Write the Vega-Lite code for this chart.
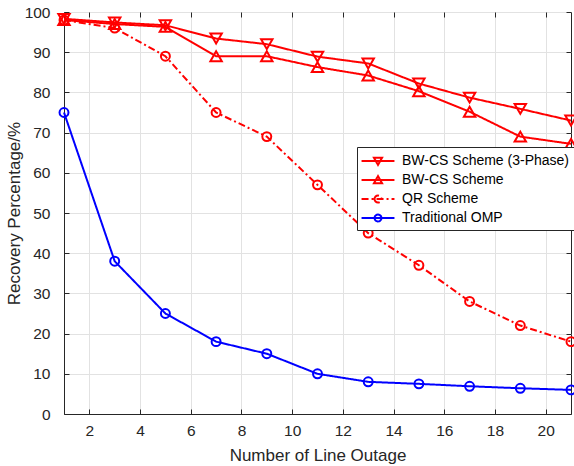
{
  "$schema": "https://vega.github.io/schema/vega-lite/v6.json",
  "autosize": {"type": "none"},
  "padding": {"left": 64, "top": 12, "right": 3, "bottom": 52},
  "width": 507,
  "height": 402,
  "background": "white",
  "config": {
    "font": "Liberation Sans",
    "view": {"stroke": "#262626", "strokeWidth": 1},
    "axis": {
      "labelFont": "Liberation Sans",
      "titleFont": "Liberation Sans",
      "labelColor": "#262626",
      "titleColor": "#262626",
      "labelFontSize": 15.5,
      "titleFontSize": 17,
      "titleFontWeight": "normal",
      "domainColor": "#262626",
      "tickColor": "#262626",
      "gridColor": "#e2e2e2",
      "gridWidth": 1
    }
  },
  "resolve": {"axis": {"x": "independent", "y": "independent"}},
  "data": {
    "values": [
      {"series": "BW-CS Scheme (3-Phase)", "x": 1, "y": 98.3},
      {"series": "BW-CS Scheme (3-Phase)", "x": 3, "y": 97.4},
      {"series": "BW-CS Scheme (3-Phase)", "x": 5, "y": 96.7},
      {"series": "BW-CS Scheme (3-Phase)", "x": 7, "y": 93.4},
      {"series": "BW-CS Scheme (3-Phase)", "x": 9, "y": 92},
      {"series": "BW-CS Scheme (3-Phase)", "x": 11, "y": 88.9},
      {"series": "BW-CS Scheme (3-Phase)", "x": 13, "y": 87.2},
      {"series": "BW-CS Scheme (3-Phase)", "x": 15, "y": 82.2},
      {"series": "BW-CS Scheme (3-Phase)", "x": 17, "y": 78.7},
      {"series": "BW-CS Scheme (3-Phase)", "x": 19, "y": 75.9},
      {"series": "BW-CS Scheme (3-Phase)", "x": 21, "y": 73},
      {"series": "BW-CS Scheme", "x": 1, "y": 98},
      {"series": "BW-CS Scheme", "x": 3, "y": 97},
      {"series": "BW-CS Scheme", "x": 5, "y": 96.3},
      {"series": "BW-CS Scheme", "x": 7, "y": 89},
      {"series": "BW-CS Scheme", "x": 9, "y": 89},
      {"series": "BW-CS Scheme", "x": 11, "y": 86.3},
      {"series": "BW-CS Scheme", "x": 13, "y": 84.2},
      {"series": "BW-CS Scheme", "x": 15, "y": 80.3},
      {"series": "BW-CS Scheme", "x": 17, "y": 75.2},
      {"series": "BW-CS Scheme", "x": 19, "y": 69},
      {"series": "BW-CS Scheme", "x": 21, "y": 67.2},
      {"series": "QR Scheme", "x": 1, "y": 98},
      {"series": "QR Scheme", "x": 3, "y": 96},
      {"series": "QR Scheme", "x": 5, "y": 89},
      {"series": "QR Scheme", "x": 7, "y": 75},
      {"series": "QR Scheme", "x": 9, "y": 69},
      {"series": "QR Scheme", "x": 11, "y": 57},
      {"series": "QR Scheme", "x": 13, "y": 45},
      {"series": "QR Scheme", "x": 15, "y": 37},
      {"series": "QR Scheme", "x": 17, "y": 28},
      {"series": "QR Scheme", "x": 19, "y": 22},
      {"series": "QR Scheme", "x": 21, "y": 18},
      {"series": "Traditional OMP", "x": 1, "y": 75},
      {"series": "Traditional OMP", "x": 3, "y": 38},
      {"series": "Traditional OMP", "x": 5, "y": 25},
      {"series": "Traditional OMP", "x": 7, "y": 18},
      {"series": "Traditional OMP", "x": 9, "y": 15},
      {"series": "Traditional OMP", "x": 11, "y": 10},
      {"series": "Traditional OMP", "x": 13, "y": 8},
      {"series": "Traditional OMP", "x": 15, "y": 7.5},
      {"series": "Traditional OMP", "x": 17, "y": 6.9},
      {"series": "Traditional OMP", "x": 19, "y": 6.4},
      {"series": "Traditional OMP", "x": 21, "y": 6}
    ]
  },
  "layer": [
    {
      "mark": {"type": "line", "strokeWidth": 2},
      "encoding": {
        "x": {
          "field": "x", "type": "quantitative",
          "scale": {"domain": [1, 21], "nice": false, "zero": false},
          "axis": {
            "title": "Number of Line Outage",
            "values": [2, 4, 6, 8, 10, 12, 14, 16, 18, 20],
            "tickSize": -5, "labelPadding": 14, "titlePadding": 9
          }
        },
        "y": {
          "field": "y", "type": "quantitative",
          "scale": {"domain": [0, 100], "nice": false},
          "axis": {
            "title": "Recovery Percentage/%",
            "values": [0, 10, 20, 30, 40, 50, 60, 70, 80, 90, 100],
            "tickSize": -5, "labelPadding": 19, "titlePadding": 1
          }
        },
        "color": {
          "field": "series", "type": "nominal",
          "scale": {
            "domain": ["BW-CS Scheme (3-Phase)", "BW-CS Scheme", "QR Scheme", "Traditional OMP"],
            "range": ["#ff0000", "#ff0000", "#ff0000", "#0000ff"]
          },
          "legend": {
            "title": null,
            "orient": "none",
            "legendX": 293,
            "legendY": 135,
            "fillColor": "white",
            "strokeColor": "#262626",
            "padding": 4,
            "labelFont": "Liberation Sans",
            "labelFontSize": 14,
            "labelColor": "#000000",
            "labelLimit": 300,
            "symbolSize": 300,
            "symbolOffset": 7,
            "symbolStrokeWidth": 2,
            "symbolFillColor": "transparent",
            "rowPadding": 1,
            "labelOffset": 14,
            "encode": {
              "symbols": {
                "update": {
                  "fill": {"value": "transparent"},
                  "shape": {"signal": "datum.value === 'BW-CS Scheme (3-Phase)' ? 'M-1.9,0H1.9M-0.47,-0.38H0.47L0,0.45Z' : datum.value === 'BW-CS Scheme' ? 'M-1.9,0H1.9M-0.47,0.38H0.47L0,-0.45Z' : 'M-1.9,0H1.9M-0.4,0A0.4,0.4 0 1,0 0.4,0A0.4,0.4 0 1,0 -0.4,0Z'"},
                  "strokeDash": {"signal": "datum.value === 'QR Scheme' ? [5,2.5,1.5,2.5] : [1,0]"}
                }
              }
            }
          }
        },
        "strokeDash": {
          "field": "series", "type": "nominal",
          "scale": {
            "domain": ["BW-CS Scheme (3-Phase)", "BW-CS Scheme", "QR Scheme", "Traditional OMP"],
            "range": [[1, 0], [1, 0], [7, 3, 2, 3], [1, 0]]
          },
          "legend": null
        }
      }
    },
    {
      "transform": [{"filter": "datum.series === 'BW-CS Scheme (3-Phase)'"}],
      "mark": {"type": "point", "shape": "triangle-down", "size": 130, "filled": false, "strokeWidth": 2, "opacity": 1},
      "encoding": {
        "x": {
          "field": "x", "type": "quantitative",
          "axis": {"orient": "top", "labels": false, "title": null, "grid": false, "domain": false, "tickSize": -5, "values": [2, 4, 6, 8, 10, 12, 14, 16, 18, 20]}
        },
        "y": {
          "field": "y", "type": "quantitative",
          "axis": {"orient": "right", "labels": false, "title": null, "grid": false, "domain": false, "tickSize": -5, "values": [0, 10, 20, 30, 40, 50, 60, 70, 80, 90, 100]}
        },
        "color": {"field": "series", "type": "nominal"}
      }
    },
    {
      "transform": [{"filter": "datum.series === 'BW-CS Scheme'"}],
      "mark": {"type": "point", "shape": "triangle-up", "size": 130, "filled": false, "strokeWidth": 2, "opacity": 1},
      "encoding": {
        "x": {"field": "x", "type": "quantitative", "axis": null},
        "y": {"field": "y", "type": "quantitative", "axis": null},
        "color": {"field": "series", "type": "nominal"}
      }
    },
    {
      "transform": [{"filter": "datum.series === 'QR Scheme' || datum.series === 'Traditional OMP'"}],
      "mark": {"type": "point", "shape": "circle", "size": 80, "filled": false, "strokeWidth": 2, "opacity": 1},
      "encoding": {
        "x": {"field": "x", "type": "quantitative", "axis": null},
        "y": {"field": "y", "type": "quantitative", "axis": null},
        "color": {"field": "series", "type": "nominal"}
      }
    }
  ]
}
